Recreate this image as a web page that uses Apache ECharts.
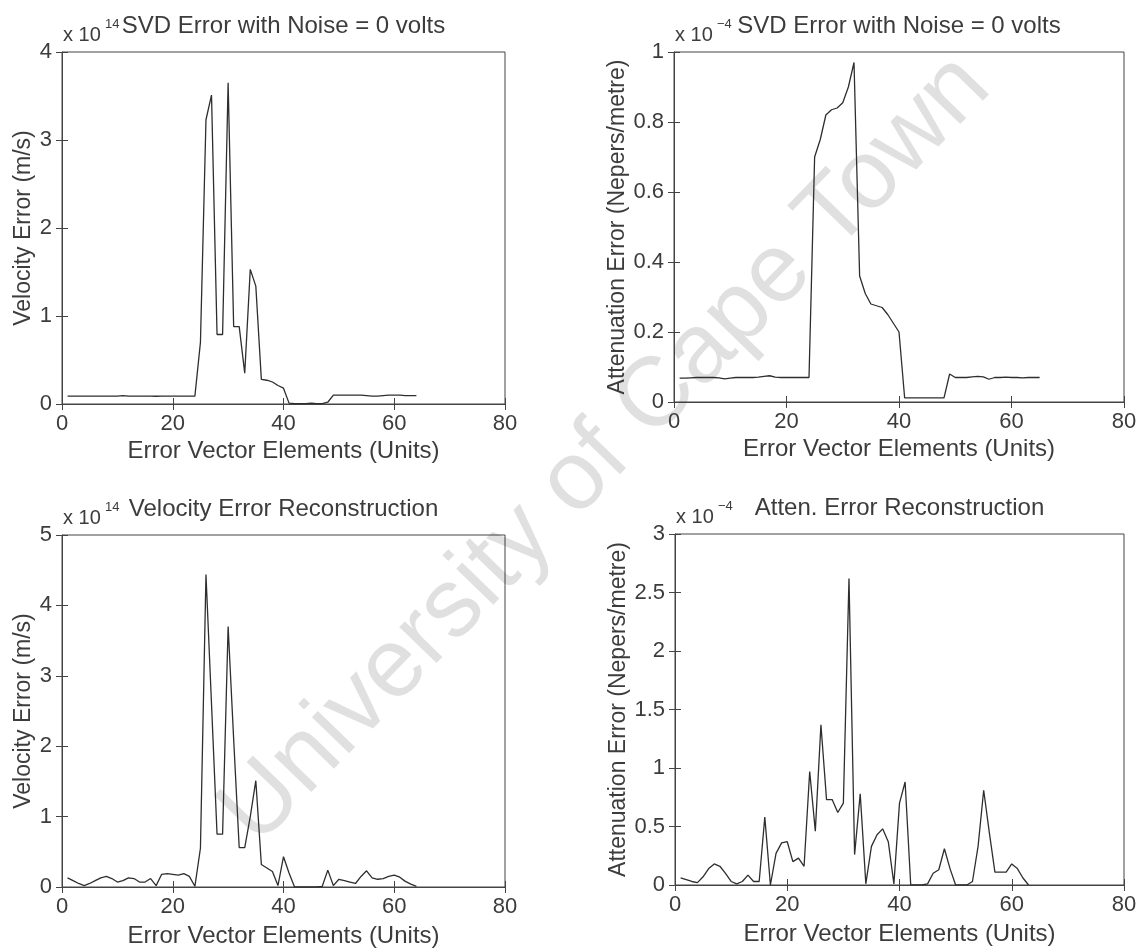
<!DOCTYPE html>
<html>
<head>
<meta charset="utf-8">
<script src="https://cdn.jsdelivr.net/npm/echarts@6/dist/echarts.min.js"></script>
<style>
  html, body { margin: 0; padding: 0; background: #ffffff; }
  #chart { width: 1140px; height: 951px; }
</style>
</head>
<body>
<div id="chart"></div>
<script>
// Velocity error, SVD inversion with noise = 0 V (x 1e14 m/s), elements 1..64
const velocitySvd = [
  0.09, 0.09, 0.09, 0.09, 0.09, 0.09, 0.09, 0.09, 0.09, 0.09,
  0.095, 0.09, 0.09, 0.09, 0.09, 0.09, 0.088, 0.09, 0.09, 0.09,
  0.09, 0.09, 0.09, 0.09, 0.70, 3.23, 3.51, 0.79, 0.79, 3.65,
  0.88, 0.88, 0.35, 1.53, 1.34, 0.28, 0.27, 0.25, 0.21, 0.18,
  0.01, 0.005, 0.005, 0.005, 0.01, 0.005, 0.005, 0.02, 0.10, 0.10,
  0.10, 0.10, 0.10, 0.10, 0.095, 0.09, 0.09, 0.095, 0.10, 0.10,
  0.10, 0.095, 0.095, 0.095
];

// Attenuation error, SVD inversion with noise = 0 V (x 1e-4 Np/m), elements 1..65
const attenuationSvd = [
  0.068, 0.068, 0.069, 0.070, 0.070, 0.070, 0.070, 0.069, 0.066, 0.068,
  0.070, 0.070, 0.070, 0.070, 0.071, 0.073, 0.075, 0.071, 0.070, 0.070,
  0.070, 0.070, 0.070, 0.070, 0.70, 0.75, 0.82, 0.835, 0.84, 0.855,
  0.90, 0.97, 0.36, 0.31, 0.28, 0.275, 0.27, 0.25, 0.225, 0.20,
  0.012, 0.012, 0.012, 0.012, 0.012, 0.012, 0.012, 0.012, 0.080, 0.070,
  0.070, 0.070, 0.072, 0.073, 0.072, 0.065, 0.070, 0.070, 0.071, 0.070,
  0.070, 0.069, 0.070, 0.070, 0.070
];

// Reconstructed velocity error (x 1e14 m/s), elements 1..64
const velocityRecon = [
  0.13, 0.09, 0.05, 0.02, 0.05, 0.09, 0.13, 0.15, 0.12, 0.07,
  0.09, 0.13, 0.12, 0.07, 0.07, 0.12, 0.02, 0.18, 0.19, 0.18,
  0.17, 0.19, 0.15, 0.01, 0.55, 4.44, 2.6, 0.75, 0.75, 3.70,
  2.1, 0.56, 0.56, 1.0, 1.51, 0.32, 0.27, 0.22, 0.02, 0.43,
  0.20, 0.0, 0.0, 0.0, 0.0, 0.0, 0.01, 0.24, 0.02, 0.11,
  0.09, 0.07, 0.05, 0.15, 0.23, 0.13, 0.11, 0.12, 0.15, 0.17,
  0.14, 0.08, 0.04, 0.01
];

// Reconstructed attenuation error (x 1e-4 Np/m), elements 1..63
const attenuationRecon = [
  0.06, 0.045, 0.03, 0.02, 0.07, 0.14, 0.18, 0.16, 0.10, 0.03,
  0.01, 0.03, 0.085, 0.03, 0.03, 0.58, 0.0, 0.27, 0.36, 0.37,
  0.20, 0.23, 0.16, 0.97, 0.46, 1.37, 0.73, 0.73, 0.62, 0.70,
  2.62, 0.26, 0.78, 0.01, 0.33, 0.43, 0.48, 0.37, 0.01, 0.70,
  0.88, 0.0, 0.0, 0.0, 0.01, 0.10, 0.13, 0.31, 0.14, 0.0,
  0.0, 0.0, 0.03, 0.33, 0.81, 0.45, 0.11, 0.11, 0.11, 0.18,
  0.14, 0.06, 0.0
];

// Tick values
const elementTicks = [0, 20, 40, 60, 80];
const velocitySvdTicks = [0, 1, 2, 3, 4];
const attenuationSvdTicks = [0, 0.2, 0.4, 0.6, 0.8, 1];
const velocityReconTicks = [0, 1, 2, 3, 4, 5];
const attenuationReconTicks = [0, 0.5, 1, 1.5, 2, 2.5, 3];

const FONT = '"Liberation Sans", Arial, Helvetica, sans-serif';
const INK = '#3c3c3c';
const LINE = '#2e2e2e';

const panels = [
  {
    grid: { left: 62, top: 52, width: 443, height: 352 },
    values: velocitySvd, yTicks: velocitySvdTicks,
    title: 'SVD Error with Noise = 0 volts', exponent: '14',
    yName: 'Velocity Error (m/s)', yNameGap: 27, xNameGap: 35
  },
  {
    grid: { left: 674, top: 52, width: 450, height: 350 },
    values: attenuationSvd, yTicks: attenuationSvdTicks,
    title: 'SVD Error with Noise = 0 volts', exponent: '\u22124',
    yName: 'Attenuation Error (Nepers/metre)', yNameGap: 37, xNameGap: 35
  },
  {
    grid: { left: 62, top: 535, width: 443, height: 352 },
    values: velocityRecon, yTicks: velocityReconTicks,
    title: 'Velocity Error Reconstruction', exponent: '14',
    yName: 'Velocity Error (m/s)', yNameGap: 27, xNameGap: 37
  },
  {
    grid: { left: 675, top: 534, width: 449, height: 351 },
    values: attenuationRecon, yTicks: attenuationReconTicks,
    title: 'Atten. Error Reconstruction', exponent: '\u22124',
    yName: 'Attenuation Error (Nepers/metre)', yNameGap: 37, xNameGap: 37
  }
];

const grids = [], xAxes = [], yAxes = [], series = [], graphics = [];

panels.forEach((p, i) => {
  grids.push(Object.assign({
    show: true, borderColor: '#444', borderWidth: 1, backgroundColor: 'transparent'
  }, p.grid));

  const xStep = elementTicks[1] - elementTicks[0];
  const yStep = p.yTicks[1] - p.yTicks[0];
  const xRange = { min: elementTicks[0], max: elementTicks[elementTicks.length - 1], interval: xStep };
  const yRange = { min: p.yTicks[0], max: p.yTicks[p.yTicks.length - 1], interval: yStep };
  const tick = { show: true, inside: true, length: 6, lineStyle: { color: '#444', width: 1 } };

  // bottom x axis with labels and name
  xAxes.push(Object.assign({
    type: 'value', gridIndex: i, position: 'bottom',
    axisLine: { show: true, onZero: false, lineStyle: { color: '#444', width: 1 } },
    axisTick: tick, splitLine: { show: false },
    axisLabel: { fontFamily: FONT, fontSize: 22, color: INK, margin: 9 },
    name: 'Error Vector Elements (Units)', nameLocation: 'middle', nameGap: p.xNameGap,
    nameTextStyle: { fontFamily: FONT, fontSize: 24, color: INK }
  }, xRange));
  // top x axis: tick marks only
  xAxes.push(Object.assign({
    type: 'value', gridIndex: i, position: 'top',
    axisLine: { show: false }, axisTick: tick, axisLabel: { show: false }, splitLine: { show: false }
  }, xRange));

  // left y axis with labels and name
  yAxes.push(Object.assign({
    type: 'value', gridIndex: i, position: 'left',
    axisLine: { show: true, onZero: false, lineStyle: { color: '#444', width: 1 } },
    axisTick: tick, splitLine: { show: false },
    axisLabel: { fontFamily: FONT, fontSize: 22, color: INK, margin: 10 },
    name: p.yName, nameLocation: 'middle', nameGap: p.yNameGap,
    nameTextStyle: { fontFamily: FONT, fontSize: 23, color: INK }
  }, yRange));
  // right y axis: tick marks only
  yAxes.push(Object.assign({
    type: 'value', gridIndex: i, position: 'right',
    axisLine: { show: false }, axisTick: tick, axisLabel: { show: false }, splitLine: { show: false }
  }, yRange));

  series.push({
    type: 'line',
    xAxisIndex: 2 * i,
    yAxisIndex: 2 * i,
    data: p.values.map((v, k) => [k + 1, v]),
    showSymbol: false,
    lineStyle: { color: LINE, width: 1.3 },
    z: 5
  });

  // title and exponent label above each axes box
  const g = p.grid;
  const cx = g.left + g.width / 2;
  graphics.push({
    type: 'text', x: cx, y: g.top - 26, z: 10,
    style: { text: p.title, font: '24px ' + FONT, fill: INK, align: 'center', verticalAlign: 'middle' }
  });
  graphics.push({
    type: 'text', x: g.left + 1, y: g.top - 17, z: 10,
    style: { text: 'x 10', font: '20px ' + FONT, fill: INK, align: 'left', verticalAlign: 'middle' }
  });
  graphics.push({
    type: 'text', x: g.left + 43, y: g.top - 28, z: 10,
    style: { text: p.exponent, font: '13px ' + FONT, fill: INK, align: 'left', verticalAlign: 'middle' }
  });
});

// diagonal watermark across the page
graphics.push({
  type: 'text', x: 606, y: 450, rotation: 0.80, z: 0, silent: true,
  style: {
    text: 'University of Cape Town', font: '98px ' + FONT,
    fill: 'rgba(0,0,0,0.12)', align: 'center', verticalAlign: 'middle'
  }
});

const chart = echarts.init(document.getElementById('chart'), null, { renderer: 'canvas' });
chart.setOption({
  animation: false,
  backgroundColor: '#ffffff',
  grid: grids,
  xAxis: xAxes,
  yAxis: yAxes,
  series: series,
  graphic: graphics
});
</script>
</body>
</html>
